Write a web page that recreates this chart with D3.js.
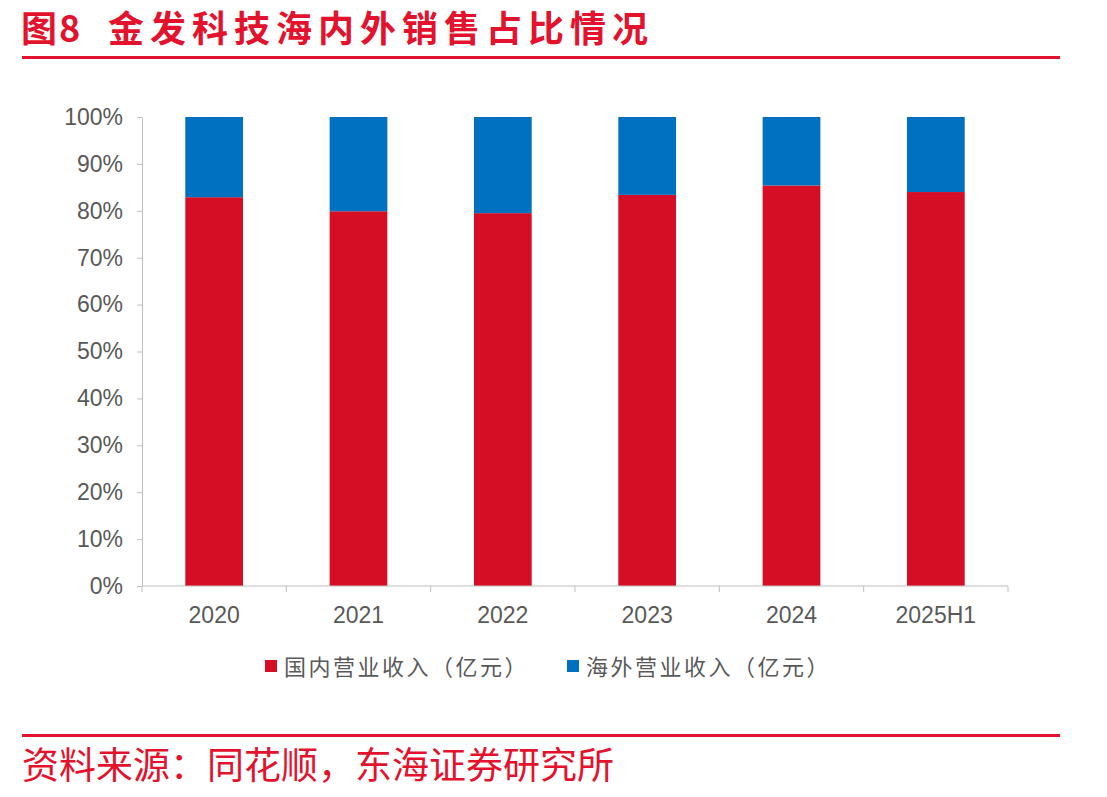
<!DOCTYPE html>
<html>
<head>
<meta charset="utf-8">
<title>金发科技海内外销售占比情况</title>
<script src="https://cdn.jsdelivr.net/npm/d3@7"></script>
<style>
  body { margin: 0; background: #fff; }
  svg text { font-family: "Noto Sans CJK SC", "Noto Sans", sans-serif; }
  svg text.num { font-family: Arial, "Liberation Sans", sans-serif; }
</style>
</head>
<body>
<svg id="chart" width="1107" height="797"></svg>
<script>
// data (share of revenue, %)
const years = ["2020", "2021", "2022", "2023", "2024", "2025H1"];
const domestic = [82.9, 79.9, 79.5, 83.4, 85.4, 84.0];
const overseas = [17.1, 20.1, 20.5, 16.6, 14.6, 16.0];
const seriesNames = ["国内营业收入（亿元）", "海外营业收入（亿元）"];
const yTicks = [0, 10, 20, 30, 40, 50, 60, 70, 80, 90, 100];

const RED = "#d50e25", BLUE = "#0070c0", TXT = "#595959", HEAD = "#e3122d";

const svg = d3.select("#chart");

// title + rules
svg.append("text").attr("x", 21).attr("y", 42)
  .attr("font-size", 36).attr("font-weight", "bold").attr("fill", HEAD)
  .attr("letter-spacing", 2)
  .text("图8");
svg.append("text").attr("x", 108).attr("y", 42)
  .attr("font-size", 36).attr("font-weight", "bold").attr("fill", HEAD)
  .attr("letter-spacing", 6)
  .text("金发科技海内外销售占比情况");
svg.append("rect").attr("x", 22).attr("y", 56).attr("width", 1038).attr("height", 3).attr("fill", HEAD);
svg.append("rect").attr("x", 22).attr("y", 734).attr("width", 1038).attr("height", 3).attr("fill", HEAD);
svg.append("text").attr("x", 22).attr("y", 779)
  .attr("font-size", 37).attr("fill", HEAD)
  .text("资料来源：同花顺，东海证券研究所");

const plotL = 142, plotR = 1008, plotT = 117, plotB = 586;

const x = d3.scaleBand().domain(years).range([plotL, plotR]).paddingInner(0.6).paddingOuter(0.3);
const y = d3.scaleLinear().domain([0, 100]).range([plotB, plotT]);

const rows = years.map((yr, i) => ({ year: yr, domestic: domestic[i], overseas: overseas[i] }));
const stack = d3.stack().keys(["domestic", "overseas"])(rows);
const colors = [RED, BLUE];

svg.append("g").selectAll("g").data(stack).join("g")
  .attr("fill", (d, i) => colors[i])
  .selectAll("rect").data(d => d).join("rect")
  .attr("x", d => x(d.data.year))
  .attr("width", x.bandwidth())
  .attr("y", d => y(d[1]))
  .attr("height", d => y(d[0]) - y(d[1]));

// y axis
const yAxis = svg.append("g").attr("transform", `translate(${plotL},0)`)
  .call(d3.axisLeft(y).tickValues(yTicks).tickFormat(d => d + "%").tickSize(5).tickSizeOuter(0).tickPadding(14));
yAxis.select(".domain").attr("stroke", "#bfbfbf");
yAxis.selectAll(".tick line").attr("stroke", "#bfbfbf");
yAxis.selectAll("text").attr("class", "num").attr("font-size", 23).attr("fill", TXT);

// x axis: ticks between categories
const xAxis = svg.append("g").attr("transform", `translate(0,${plotB})`);
xAxis.append("line").attr("x1", plotL).attr("x2", plotR).attr("stroke", "#bfbfbf");
const bounds = d3.range(years.length + 1).map(i => plotL + i * (plotR - plotL) / years.length);
xAxis.selectAll(".bt").data(bounds).join("line")
  .attr("x1", d => d).attr("x2", d => d).attr("y1", 0).attr("y2", 6).attr("stroke", "#bfbfbf");
xAxis.selectAll(".lbl").data(years).join("text")
  .attr("class", "num")
  .attr("x", d => x(d) + x.bandwidth() / 2).attr("y", 37)
  .attr("text-anchor", "middle").attr("font-size", 23).attr("fill", TXT)
  .text(d => d);

// legend
const legendX = [265, 567];
const lg = svg.append("g").selectAll("g").data(seriesNames).join("g")
  .attr("transform", (d, i) => `translate(${legendX[i]},660)`);
lg.append("rect").attr("width", 12).attr("height", 12).attr("fill", (d, i) => colors[i]);
lg.append("text").attr("x", 19).attr("y", 15).attr("font-size", 22).attr("letter-spacing", 2.5)
  .attr("fill", TXT).text(d => d);
</script>
</body>
</html>
